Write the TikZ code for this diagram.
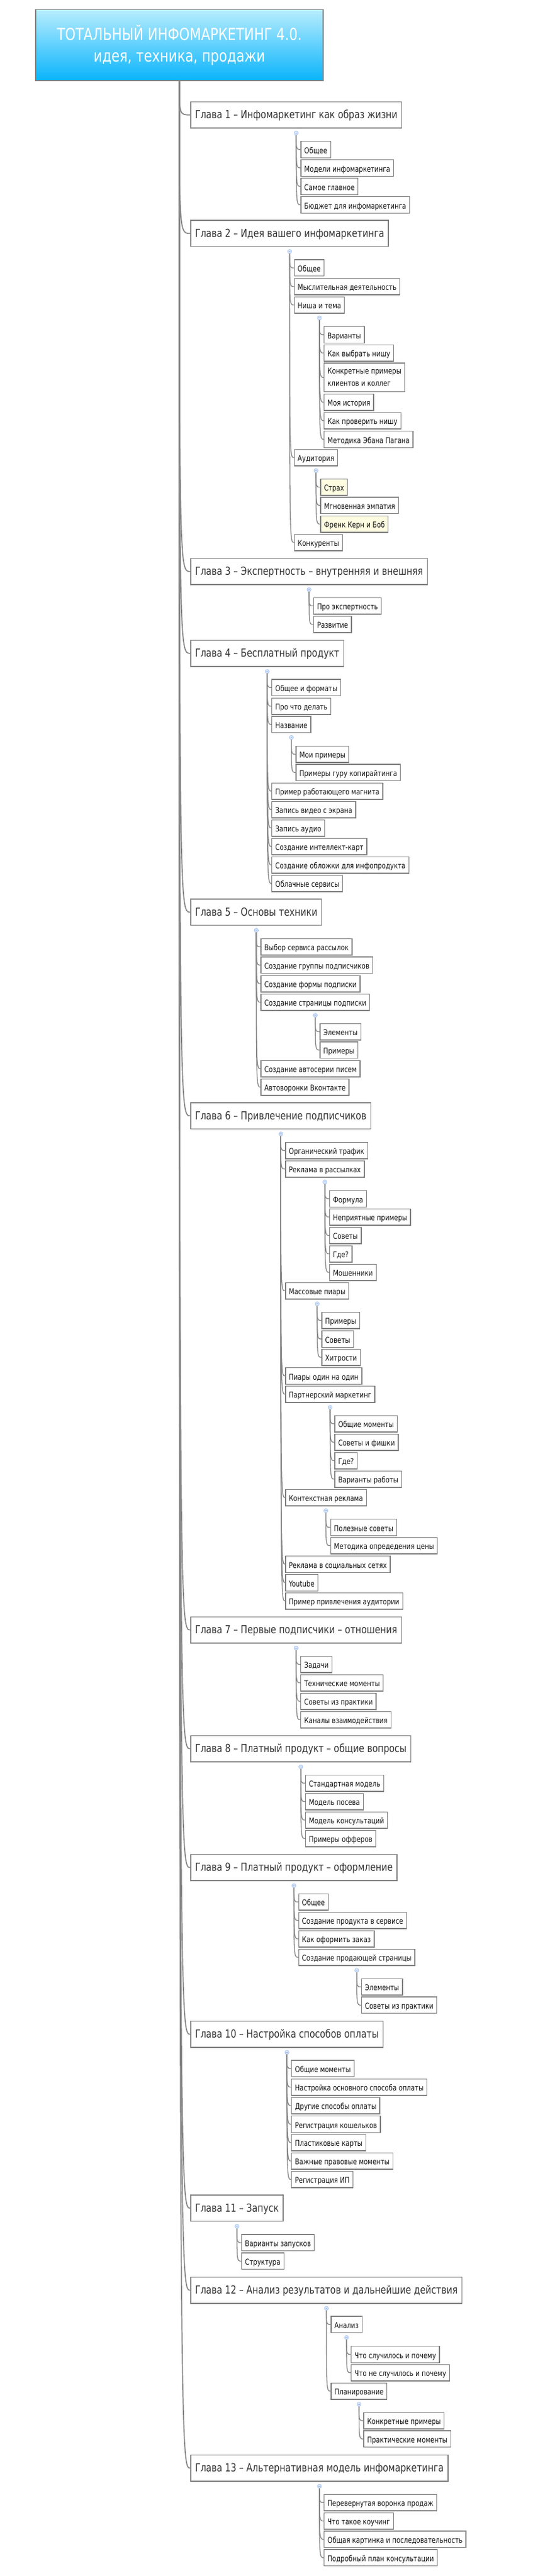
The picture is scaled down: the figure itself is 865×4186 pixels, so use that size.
\documentclass[tikz,border=0pt]{standalone}
\usepackage{fontspec}
\newfontfamily\mapfont[FakeStretch=0.8]{DejaVu Sans}
\definecolor{boxgray}{HTML}{808080}
\definecolor{linegray}{HTML}{858585}
\definecolor{chaptext}{HTML}{333333}
\definecolor{leaftext}{HTML}{111111}
\definecolor{notefill}{HTML}{FEFDE1}
\definecolor{knobfill}{HTML}{D8E6FB}
\definecolor{knobline}{HTML}{9FBCEB}
\definecolor{roottop}{HTML}{B8EDFE}
\definecolor{rootbottom}{HTML}{09B4FB}
\tikzset{rootbox/.style={draw=boxgray,line width=1.6pt,top color=roottop,bottom color=rootbottom,minimum width=467pt,minimum height=115.7pt,inner sep=0pt},
  titletext/.style={text=white,font=\mapfont\fontsize{27}{34}\selectfont,inner sep=0pt},
  chap/.style={draw=boxgray,line width=1.4pt,fill=white,text=chaptext,font=\mapfont\fontsize{18}{22}\selectfont,anchor=north west,inner xsep=7pt,minimum height=42.7pt,text height=16pt,text depth=4.7pt},
  leaf/.style={draw=boxgray,line width=1.3pt,fill=white,text=leaftext,font=\mapfont\fontsize{13}{20}\selectfont,anchor=north west,inner xsep=5.5pt,minimum height=26.5pt,text height=14pt,text depth=1.7pt},
  hot/.style={fill=notefill},
  twoline/.style={text height=,text depth=,align=left,minimum height=46.7pt},
  spine/.style={draw=linegray,line width=1.7pt},
  twig/.style={draw=linegray,line width=1.3pt},
  knob/.style={circle,draw=knobline,fill=knobfill,line width=0.6pt,minimum size=6.6pt,inner sep=0pt,
    path picture={\draw[knobline,line width=0.7pt] ([xshift=-1.8pt]path picture bounding box.center) -- ([xshift=1.8pt]path picture bounding box.center);}}}
% knob under a node that has children
\newcommand\knobnode[1]{\node[knob] (#1k) at ([yshift=-7.3pt]#1.south) {};}
% chapter: name, top, text
\newcommand\chapnode[3]{%
  \node[chap] (#1) at (309.3,#2) {#3};
  \draw[spine] (root.south) .. controls (root.south |- #1.west) .. (#1.west);
  \knobnode{#1}}
% leaf: style, name, parent, top, text
\newcommand\leafnode[5][]{%
  \coordinate (#2x) at ([xshift=7pt]#3.south);
  \node[leaf,#1] (#2) at (#2x |- 0,#4) {#5};
  \draw[twig] (#3k.south) .. controls (#3k.south |- #2.west) .. (#2.west);}
\begin{document}
\begin{tikzpicture}[x=1pt,y=-1pt]
\fill[white] (0,0) rectangle (865,4186);
\useasboundingbox (0,0) rectangle (865,4186);
% root
\node[rootbox] (root) at (291.5,73.2) {};
\node[titletext,anchor=base] (title) at (291.5,65.7) {ТОТАЛЬНЫЙ ИНФОМАРКЕТИНГ 4.0.};
\node[titletext,anchor=base] (subtitle) at (291.5,100) {идея, техника, продажи};
% 1
\chapnode{c1}{164.7}{Глава 1 – Инфомаркетинг как образ жизни}
\leafnode{c1a}{c1}{229}{Общее}
\leafnode{c1b}{c1}{259}{Модели инфомаркетинга}
\leafnode{c1c}{c1}{289}{Самое главное}
\leafnode{c1d}{c1}{319}{Бюджет для инфомаркетинга}
% 2
\chapnode{c2}{357.3}{Глава 2 – Идея вашего инфомаркетинга}
\leafnode{c2a}{c2}{421.3}{Общее}
\leafnode{c2b}{c2}{451.7}{Мыслительная деятельность}
\leafnode{c2c}{c2}{481.7}{Ниша и тема}
\knobnode{c2c}
\leafnode{c2c1}{c2c}{530}{Варианты}
\leafnode{c2c2}{c2c}{559.7}{Как выбрать нишу}
\leafnode[twoline]{c2c3}{c2c}{589.3}{Конкретные примеры\\клиентов и коллег}
\leafnode{c2c4}{c2c}{639.7}{Моя история}
\leafnode{c2c5}{c2c}{669.7}{Как проверить нишу}
\leafnode{c2c6}{c2c}{700}{Методика Эбана Пагана}
\leafnode{c2d}{c2}{729.7}{Аудитория}
\knobnode{c2d}
\leafnode[hot]{c2d1}{c2d}{777.7}{Страх}
\leafnode{c2d2}{c2d}{807.3}{Мгновенная эмпатия}
\leafnode[hot]{c2d3}{c2d}{837.7}{Френк Керн и Боб}
\leafnode{c2e}{c2}{867.7}{Конкуренты}
% 3
\chapnode{c3}{906.7}{Глава 3 – Экспертность – внутренняя и внешняя}
\leafnode{c3a}{c3}{970.7}{Про экспертность}
\leafnode{c3b}{c3}{1000.7}{Развитие}
% 4
\chapnode{c4}{1039.7}{Глава 4 – Бесплатный продукт}
\leafnode{c4a}{c4}{1103.3}{Общее и форматы}
\leafnode{c4b}{c4}{1133.7}{Про что делать}
\leafnode{c4c}{c4}{1163.3}{Название}
\knobnode{c4c}
\leafnode{c4c1}{c4c}{1211.7}{Мои примеры}
\leafnode{c4c2}{c4c}{1241.3}{Примеры гуру копирайтинга}
\leafnode{c4d}{c4}{1271.7}{Пример работающего магнита}
\leafnode{c4e}{c4}{1301.7}{Запись видео с экрана}
\leafnode{c4f}{c4}{1331.7}{Запись аудио}
\leafnode{c4g}{c4}{1361.7}{Создание интеллект-карт}
\leafnode{c4h}{c4}{1391.7}{Создание обложки для инфопродукта}
\leafnode{c4i}{c4}{1421.7}{Облачные сервисы}
% 5
\chapnode{c5}{1460.3}{Глава 5 – Основы техники}
\leafnode{c5a}{c5}{1524.7}{Выбор сервиса рассылок}
\leafnode{c5b}{c5}{1554.3}{Создание группы подписчиков}
\leafnode{c5c}{c5}{1584.7}{Создание формы подписки}
\leafnode{c5d}{c5}{1614.7}{Создание страницы подписки}
\knobnode{c5d}
\leafnode{c5d1}{c5d}{1662.7}{Элементы}
\leafnode{c5d2}{c5d}{1692.3}{Примеры}
\leafnode{c5e}{c5}{1722.7}{Создание автосерии писем}
\leafnode{c5f}{c5}{1752.7}{Автоворонки Вконтакте}
% 6
\chapnode{c6}{1791.3}{Глава 6 – Привлечение подписчиков}
\leafnode{c6a}{c6}{1855.7}{Органический трафик}
\leafnode{c6b}{c6}{1885.7}{Реклама в рассылках}
\knobnode{c6b}
\leafnode{c6b1}{c6b}{1934}{Формула}
\leafnode{c6b2}{c6b}{1963.7}{Неприятные примеры}
\leafnode{c6b3}{c6b}{1993.7}{Советы}
\leafnode{c6b4}{c6b}{2023.7}{Где?}
\leafnode{c6b5}{c6b}{2053.7}{Мошенники}
\leafnode{c6c}{c6}{2083.7}{Массовые пиары}
\knobnode{c6c}
\leafnode{c6c1}{c6c}{2131.7}{Примеры}
\leafnode{c6c2}{c6c}{2162}{Советы}
\leafnode{c6c3}{c6c}{2191.7}{Хитрости}
\leafnode{c6d}{c6}{2222}{Пиары один на один}
\leafnode{c6e}{c6}{2251.7}{Партнерский маркетинг}
\knobnode{c6e}
\leafnode{c6e1}{c6e}{2299.7}{Общие моменты}
\leafnode{c6e2}{c6e}{2329.7}{Советы и фишки}
\leafnode{c6e3}{c6e}{2359.7}{Где?}
\leafnode{c6e4}{c6e}{2389.7}{Варианты работы}
\leafnode{c6f}{c6}{2419.7}{Контекстная реклама}
\knobnode{c6f}
\leafnode{c6f1}{c6f}{2468}{Полезные советы}
\leafnode{c6f2}{c6f}{2497.7}{Методика опредедения цены}
\leafnode{c6g}{c6}{2528}{Реклама в социальных сетях}
\leafnode{c6h}{c6}{2558}{Youtube}
\leafnode{c6i}{c6}{2587.7}{Пример привлечения аудитории}
% 7
\chapnode{c7}{2626.7}{Глава 7 – Первые подписчики – отношения}
\leafnode{c7a}{c7}{2690.7}{Задачи}
\leafnode{c7b}{c7}{2720.7}{Технические моменты}
\leafnode{c7c}{c7}{2750.7}{Советы из практики}
\leafnode{c7d}{c7}{2780.7}{Каналы взаимодействия}
% 8
\chapnode{c8}{2819.7}{Глава 8 – Платный продукт – общие вопросы}
\leafnode{c8a}{c8}{2883.7}{Стандартная модель}
\leafnode{c8b}{c8}{2913.7}{Модель посева}
\leafnode{c8c}{c8}{2943.7}{Модель консультаций}
\leafnode{c8d}{c8}{2973.7}{Примеры офферов}
% 9
\chapnode{c9}{3012.7}{Глава 9 – Платный продукт – оформление}
\leafnode{c9a}{c9}{3076.7}{Общее}
\leafnode{c9b}{c9}{3106.7}{Создание продукта в сервисе}
\leafnode{c9c}{c9}{3136.7}{Как оформить заказ}
\leafnode{c9d}{c9}{3166.7}{Создание продающей страницы}
\knobnode{c9d}
\leafnode{c9d1}{c9d}{3214.7}{Элементы}
\leafnode{c9d2}{c9d}{3244.3}{Советы из практики}
% 10
\chapnode{c10}{3283.7}{Глава 10 – Настройка способов оплаты}
\leafnode{c10a}{c10}{3347.3}{Общие моменты}
\leafnode{c10b}{c10}{3377.7}{Настройка основного способа оплаты}
\leafnode{c10c}{c10}{3407.7}{Другие способы оплаты}
\leafnode{c10d}{c10}{3438}{Регистрация кошельков}
\leafnode{c10e}{c10}{3467.7}{Пластиковые карты}
\leafnode{c10f}{c10}{3497.7}{Важные правовые моменты}
\leafnode{c10g}{c10}{3527.7}{Регистрация ИП}
% 11
\chapnode{c11}{3566.3}{Глава 11 – Запуск}
\leafnode{c11a}{c11}{3630.3}{Варианты запусков}
\leafnode{c11b}{c11}{3660.3}{Структура}
% 12
\chapnode{c12}{3699.7}{Глава 12 – Анализ результатов и дальнейшие действия}
\leafnode{c12a}{c12}{3763.3}{Анализ}
\knobnode{c12a}
\leafnode{c12a1}{c12a}{3812}{Что случилось и почему}
\leafnode{c12a2}{c12a}{3841.7}{Что не случилось и почему}
\leafnode{c12b}{c12}{3871.7}{Планирование}
\knobnode{c12b}
\leafnode{c12b1}{c12b}{3919.7}{Конкретные примеры}
\leafnode{c12b2}{c12b}{3949.3}{Практические моменты}
% 13
\chapnode{c13}{3988.7}{Глава 13 – Альтернативная модель инфомаркетинга}
\leafnode{c13a}{c13}{4052.7}{Перевернутая воронка продаж}
\leafnode{c13b}{c13}{4082.7}{Что такое коучинг}
\leafnode{c13c}{c13}{4112.3}{Общая картинка и последовательность}
\leafnode{c13d}{c13}{4142.3}{Подробный план консультации}
\end{tikzpicture}
\end{document}
